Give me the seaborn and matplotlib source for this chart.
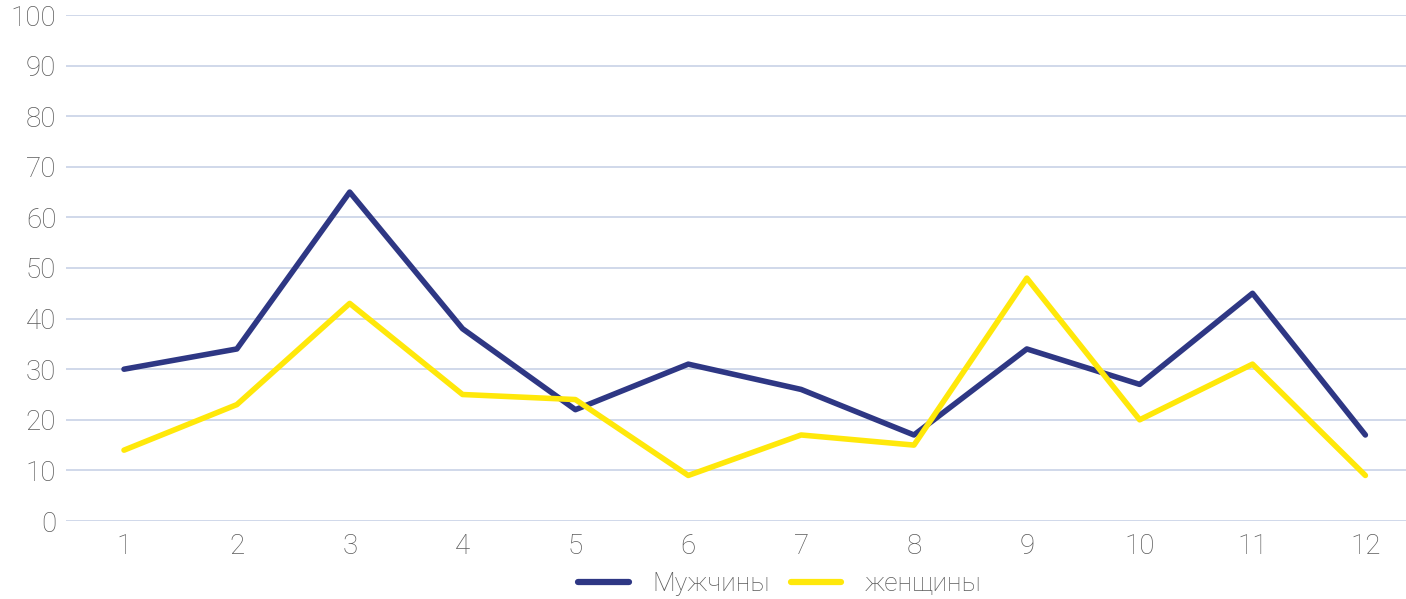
import matplotlib
matplotlib.use("Agg")
import matplotlib.pyplot as plt
import seaborn as sns
import pandas as pd

months = [1, 2, 3, 4, 5, 6, 7, 8, 9, 10, 11, 12]
men = [30, 34, 65, 38, 22, 31, 26, 17, 34, 27, 45, 17]
women = [14, 23, 43, 25, 24, 9, 17, 15, 48, 20, 31, 9]
series_names = ["Мужчины", "женщины"]
y_ticks = [0, 10, 20, 30, 40, 50, 60, 70, 80, 90, 100]

sns.set_style("white")
plt.rcParams["font.family"] = ["Roboto", "DejaVu Sans"]

df = pd.DataFrame({
    "x": months * 2,
    "value": men + women,
    "series": [series_names[0]] * len(men) + [series_names[1]] * len(women),
})

palette = {series_names[0]: "#2E3784", series_names[1]: "#FFE80A"}
text_color = "#5A5A5A"

fig = plt.figure(figsize=(14.06, 5.99), dpi=100)
ax = fig.add_axes([66 / 1406, 78 / 599, 1 - 66 / 1406, (521 - 15) / 599])

sns.lineplot(data=df, x="x", y="value", hue="series", palette=palette,
             linewidth=4, ax=ax, legend=True, solid_capstyle="round")
for ln in ax.get_lines():
    ln.set_clip_on(False)

ax.set_xlim(0.486, 12.36)
ax.set_ylim(0, 100)
ax.set_xticks(months)
ax.set_xticklabels([str(m) for m in months])
ax.set_yticks(y_ticks)
ax.yaxis.grid(True, color="#C8D2E6", linewidth=1.2)
ax.xaxis.grid(False)
ax.set_axisbelow(True)
for s in ax.spines.values():
    s.set_visible(False)
ax.tick_params(axis="both", length=0, labelsize=20, labelcolor=text_color)
ax.tick_params(axis="x", pad=9)
ax.tick_params(axis="y", pad=7)
for lbl in ax.get_xticklabels() + ax.get_yticklabels():
    lbl.set_fontweight("light")
ax.set_xlabel("")
ax.set_ylabel("")

handles, labels = ax.get_legend_handles_labels()
ax.get_legend().remove()
leg = fig.legend(handles, labels, loc="center", bbox_to_anchor=(780 / 1406, 15 / 599),
                 ncol=2, frameon=False, handlelength=1.9, handletextpad=0.9,
                 columnspacing=0.8, prop={"size": 19, "weight": "light"})
for t in leg.get_texts():
    t.set_color(text_color)
for h in leg.get_lines():
    h.set_linewidth(4.5)
    h.set_solid_capstyle("round")

fig.savefig("out.png", dpi=100)
